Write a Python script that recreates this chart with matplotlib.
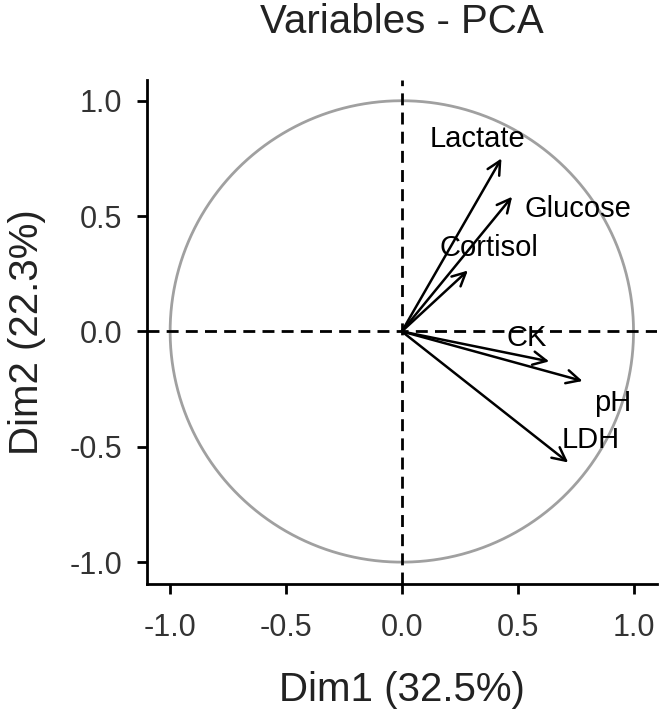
import matplotlib
matplotlib.use("Agg")
import matplotlib.pyplot as plt
import numpy as np

plt.rcParams["font.family"] = ["Liberation Sans", "DejaVu Sans"]

# variable coordinates on Dim1 / Dim2
variables = ["Lactate", "Glucose", "Cortisol", "CK", "pH", "LDH"]
dim1 = [0.43, 0.476, 0.285, 0.636, 0.78, 0.718]
dim2 = [0.75, 0.584, 0.264, -0.13, -0.215, -0.568]
# where the (repelled) labels ended up
label_x = [0.325, 0.76, 0.377, 0.54, 0.91, 0.815]
label_y = [0.835, 0.53, 0.36, -0.03, -0.31, -0.47]

ticks = [-1.0, -0.5, 0.0, 0.5, 1.0]
tick_labels = ["-1.0", "-0.5", "0.0", "0.5", "1.0"]

fig = plt.figure(figsize=(6.62, 7.14), dpi=100)
ax = fig.add_axes([0.222, 0.182, 0.770, 0.706])

theta = np.linspace(0, 2 * np.pi, 400)
ax.plot(np.cos(theta), np.sin(theta), color="#a0a0a0", lw=2)

ax.axhline(0, color="black", lw=2, ls=(0, (4.3, 2.6)))
ax.axvline(0, color="black", lw=2, ls=(0, (4.3, 2.6)))

for name, x, y, lx, ly in zip(variables, dim1, dim2, label_x, label_y):
    ax.annotate("", xy=(x, y), xytext=(0, 0),
                arrowprops=dict(arrowstyle="->", color="black", lw=1.8,
                                mutation_scale=24, shrinkA=0, shrinkB=0))
    ax.text(lx, ly, name, fontsize=21, ha="center", va="center", color="black")

ax.set_xlim(-1.1, 1.1)
ax.set_ylim(-1.095, 1.09)
ax.set_xticks(ticks)
ax.set_xticklabels(tick_labels)
ax.set_yticks(ticks)
ax.set_yticklabels(tick_labels)

for s in ["top", "right"]:
    ax.spines[s].set_visible(False)
for s in ["left", "bottom"]:
    ax.spines[s].set_linewidth(2)
ax.tick_params(direction="out", length=7, width=2, labelsize=22,
               labelcolor="#333333")
ax.tick_params(axis="x", pad=14)
ax.tick_params(axis="y", pad=11)

ax.set_xlabel("Dim1 (32.5%)", fontsize=29, color="#222222", labelpad=20)
ax.set_ylabel("Dim2 (22.3%)", fontsize=29, color="#222222", labelpad=17)
ax.set_title("Variables - PCA", fontsize=29, color="#222222", pad=34)

fig.savefig("out.png", dpi=100, facecolor="white")
